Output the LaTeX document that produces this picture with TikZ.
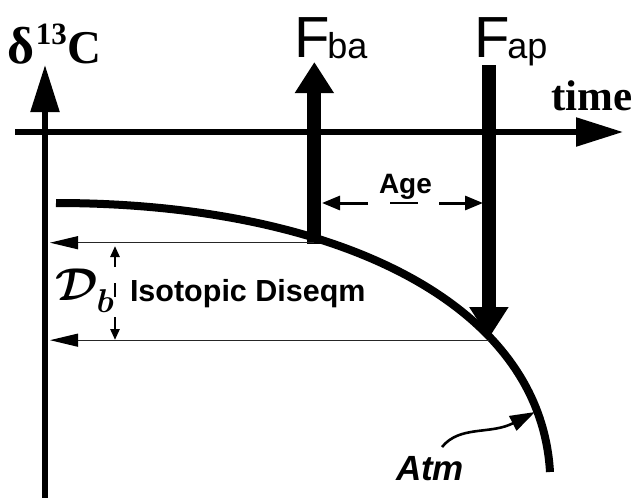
\RequirePackage{fix-cm}
\documentclass[tikz,border=0pt]{standalone}
\usepackage{bm}
\usepackage{fontspec}
\setmainfont{Liberation Serif}
\setsansfont{Liberation Sans}
\usetikzlibrary{arrows.meta,calc}
\tikzset{
  axisline/.style={line width=5.5pt,-{Triangle[length=47pt,width=28pt]}},
  fatarrow/.style={line width=14pt,-{Triangle[length=31pt,width=37pt]}},
  curveline/.style={line width=8pt,line cap=butt},
  thinline/.style={line width=1.2pt,black!85,-{Triangle[length=28pt,width=13pt,color=black]}},
  dimarrow/.style={line width=2.5pt,-{Triangle[length=11pt,width=9pt]}},
  agearrow/.style={line width=3pt,-{Triangle[length=18pt,width=14pt]}},
  dimbar/.style={line width=2.2pt},
  atmarrow/.style={line width=2.6pt,-{Triangle[length=25pt,width=16pt]}},
  lbl/.style={inner sep=0pt,outer sep=0pt}
}
\begin{document}
\begin{tikzpicture}[x=1pt,y=-1pt]
\useasboundingbox (0,0) rectangle (638,498);
% axes
\coordinate (yb) at (45,498);
\coordinate (yt) at (45,65);
\coordinate (xl) at (15,132);
\coordinate (xr) at (623,132);
\coordinate (ax) at (50,0);
\draw[axisline] (yb) -- (yt);
\draw[axisline] (xl) -- (xr);
% curve
\coordinate (cs) at (56,203);
\coordinate (ce) at (550,472);
\draw[curveline] (cs) .. controls (330,203) and (540,300) .. (ce)
  coordinate[pos=0.35] (fba) coordinate[pos=0.695] (fap);
% flux arrows
\coordinate (fbabot) at ($(fba)+(0,6)$);
\coordinate (fbatop) at (fba |- 0,62);
\draw[fatarrow] (fbabot) -- (fbatop);
\coordinate (faptop) at (fap |- 0,65);
\coordinate (faptip) at ($(fap)+(0,2)$);
\draw[fatarrow] (faptop) -- (faptip);
% thin horizontal lines
\coordinate (l1) at ($(fba)+(0,5)$);
\coordinate (l1e) at (l1 -| ax);
\coordinate (l2) at ($(fap)+(0,4)$);
\coordinate (l2e) at (l2 -| ax);
\draw[thinline] (l1) -- (l1e);
\draw[thinline] (l2) -- (l2e);
% D_b dimension
\coordinate (d1a) at (115,267);
\coordinate (d1b) at (115,246);
\coordinate (d2a) at (115,283);
\coordinate (d2b) at (115,297);
\coordinate (d3a) at (115,317);
\coordinate (d3b) at (115,340);
\draw[dimarrow] (d1a) -- (d1b);
\draw[dimbar] (d2a) -- (d2b);
\draw[dimarrow] (d3a) -- (d3b);
% Age dimension
\coordinate (a1a) at (368,203);
\coordinate (a1b) at (322,203);
\coordinate (a2a) at (390,203);
\coordinate (a2b) at (418,203);
\coordinate (a3a) at (439,203);
\coordinate (a3b) at (483,203);
\draw[agearrow] (a1a) -- (a1b);
\draw[dimbar] (a2a) -- (a2b);
\draw[agearrow] (a3a) -- (a3b);
% Atm arrow
\coordinate (atms) at (442,447);
\coordinate (atme) at (535,412);
\draw[atmarrow] (atms) .. controls (460,425) and (490,435) .. (atme);
% labels
\node[lbl,anchor=base west] (dC) at (8,63)
  {\bfseries\fontsize{52}{52}\selectfont δ\hspace{1pt}\raisebox{19pt}{\fontsize{31}{31}\selectfont 13}\hspace{1pt}{\fontsize{47}{47}\selectfont C}};
\node[lbl,anchor=base west] (time) at (551,110)
  {\fontsize{43}{43}\selectfont\bfseries time};
\node[lbl,anchor=base west] (Fba) at (294,57)
  {\sffamily\fontsize{58}{58}\selectfont F\hspace{-2pt}\raisebox{-1pt}{\fontsize{36}{36}\selectfont ba}};
\node[lbl,anchor=base west] (Fap) at (474,57)
  {\sffamily\fontsize{58}{58}\selectfont F\hspace{-2pt}\raisebox{-1pt}{\fontsize{36}{36}\selectfont ap}};
\node[lbl,anchor=base west] (iso) at (130,301)
  {\sffamily\bfseries\fontsize{30.5}{30.5}\selectfont Isotopic Diseqm};
\node[lbl,anchor=base west] (age) at (379,193)
  {\sffamily\bfseries\fontsize{28}{28}\selectfont Age};
\node[lbl,anchor=base west] (Db) at (56,300)
  {\fontsize{46}{46}\selectfont$\bm{\mathcal{D}}$\hspace{-2pt}\raisebox{-12pt}{\fontsize{33}{33}\selectfont$\bm{b}$}};
\node[lbl,anchor=base west] (atm) at (396,480)
  {\sffamily\bfseries\itshape\fontsize{35}{35}\selectfont Atm};
\end{tikzpicture}
\end{document}
